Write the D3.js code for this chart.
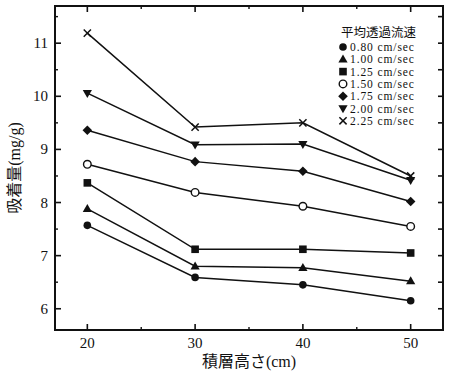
<!DOCTYPE html>
<html>
<head>
<meta charset="utf-8">
<script src="https://cdn.jsdelivr.net/npm/d3@7"></script>
<style>
  body { margin: 0; background: #fff; }
  svg text { fill: #111; font-family: "Liberation Serif", "Noto Sans CJK JP", serif; }
</style>
</head>
<body>
<div id="chart"></div>
<script>
// data
const heights = [20, 30, 40, 50];
const flowLabels = ["0.80 cm/sec", "1.00 cm/sec", "1.25 cm/sec", "1.50 cm/sec", "1.75 cm/sec", "2.00 cm/sec", "2.25 cm/sec"];
const markers = ["circle", "triangle", "square", "open", "diamond", "tridown", "cross"];
const v080 = [7.57, 6.59, 6.45, 6.15];
const v100 = [7.88, 6.80, 6.77, 6.52];
const v125 = [8.37, 7.12, 7.12, 7.05];
const v150 = [8.72, 8.19, 7.93, 7.55];
const v175 = [9.36, 8.77, 8.59, 8.02];
const v200 = [10.06, 9.09, 9.10, 8.42];
const v225 = [11.19, 9.42, 9.50, 8.50];
const xTicks = [20, 30, 40, 50];
const yTicks = [6, 7, 8, 9, 10, 11];
const legendTitle = "平均透過流速";
const xTitle = "積層高さ(cm)";
const yTitle = "吸着量(mg/g)";

const series = [v080, v100, v125, v150, v175, v200, v225];

const width = 450, height = 379;
const margin = { top: 6, right: 7, bottom: 49, left: 55 };
const ink = "#111";

const svg = d3.select("#chart").append("svg")
  .attr("width", width)
  .attr("height", height);

const x = d3.scaleLinear().domain([17, 53]).range([margin.left, width - margin.right]);
const y = d3.scaleLinear().domain([5.6, 11.7]).range([height - margin.bottom, margin.top]);

const halfTicksY = d3.range(6, 11.6, 0.5);
const minorX = [25, 35, 45];
const minorY = halfTicksY.filter(d => d % 1 !== 0);

// axes with inward ticks
const axisG = svg.append("g").attr("stroke", ink);

function tickLines(sel, data, x1, y1, x2, y2, w) {
  sel.selectAll(null).data(data).enter().append("line")
    .attr("x1", x1).attr("y1", y1).attr("x2", x2).attr("y2", y2)
    .attr("stroke-width", w);
}
const L = x.range()[0], R = x.range()[1], B = y.range()[0], T = y.range()[1];
tickLines(axisG, xTicks, d => x(d), B, d => x(d), B - 6, 1.6);
tickLines(axisG, minorX, d => x(d), B, d => x(d), B - 3, 1.4);
tickLines(axisG, xTicks, d => x(d), T, d => x(d), T + 6, 1.6);
tickLines(axisG, minorX, d => x(d), T, d => x(d), T + 3, 1.4);
tickLines(axisG, yTicks, L, d => y(d), L + 6, d => y(d), 1.6);
tickLines(axisG, minorY, L, d => y(d), L + 3, d => y(d), 1.4);
tickLines(axisG, halfTicksY, R, d => y(d), R - 5, d => y(d), 1.6);

axisG.append("rect")
  .attr("x", L).attr("y", T)
  .attr("width", R - L).attr("height", B - T)
  .attr("fill", "none").attr("stroke-width", 2);

// tick labels
svg.append("g").selectAll("text").data(xTicks).enter().append("text")
  .attr("x", d => x(d)).attr("y", B + 18)
  .attr("text-anchor", "middle").attr("font-size", 15)
  .text(d => d);
svg.append("g").selectAll("text").data(yTicks).enter().append("text")
  .attr("x", L - 7).attr("y", d => y(d) + 5)
  .attr("text-anchor", "end").attr("font-size", 15)
  .text(d => d);

// axis titles
svg.append("text")
  .attr("x", (L + R) / 2).attr("y", 367)
  .attr("text-anchor", "middle").attr("font-size", 16)
  .text(xTitle);
svg.append("text")
  .attr("transform", `translate(20, ${(T + B) / 2}) rotate(-90)`)
  .attr("text-anchor", "middle").attr("font-size", 16)
  .text(yTitle);

// marker drawing
function drawMarker(g, type, cx, cy) {
  const s = 3.8;
  if (type === "circle") {
    g.append("circle").attr("cx", cx).attr("cy", cy).attr("r", s).attr("fill", ink);
  } else if (type === "open") {
    g.append("circle").attr("cx", cx).attr("cy", cy).attr("r", s).attr("fill", "#fff")
      .attr("stroke", ink).attr("stroke-width", 1.4);
  } else if (type === "square") {
    g.append("rect").attr("x", cx - s).attr("y", cy - s).attr("width", 2 * s).attr("height", 2 * s).attr("fill", ink);
  } else if (type === "triangle") {
    g.append("path").attr("d", `M${cx},${cy - 4.8}L${cx + 4.6},${cy + 3.2}L${cx - 4.6},${cy + 3.2}Z`).attr("fill", ink);
  } else if (type === "tridown") {
    g.append("path").attr("d", `M${cx},${cy + 4.8}L${cx + 4.6},${cy - 3.2}L${cx - 4.6},${cy - 3.2}Z`).attr("fill", ink);
  } else if (type === "diamond") {
    g.append("path").attr("d", `M${cx},${cy - 4.8}L${cx + 4.8},${cy}L${cx},${cy + 4.8}L${cx - 4.8},${cy}Z`).attr("fill", ink);
  } else if (type === "cross") {
    g.append("path").attr("d", `M${cx - 3.6},${cy - 3.6}L${cx + 3.6},${cy + 3.6}M${cx - 3.6},${cy + 3.6}L${cx + 3.6},${cy - 3.6}`)
      .attr("stroke", ink).attr("stroke-width", 1.5);
  }
}

// lines and markers
const line = d3.line().x((d, i) => x(heights[i])).y(d => y(d));
const plot = svg.append("g");
series.forEach((vals, k) => {
  plot.append("path").datum(vals)
    .attr("d", line)
    .attr("fill", "none").attr("stroke", ink).attr("stroke-width", 1.5);
});
series.forEach((vals, k) => {
  const g = plot.append("g");
  vals.forEach((v, i) => drawMarker(g, markers[k], x(heights[i]), y(v)));
});

// legend
const lg = svg.append("g").attr("transform", "translate(343, 0)");
lg.append("text").attr("x", -2).attr("y", 37).attr("font-size", 12.5).text(legendTitle);
flowLabels.forEach((lab, i) => {
  const cy = 47 + i * 12.3;
  drawMarker(lg, markers[i], 0, cy);
  lg.append("text").attr("x", 7).attr("y", cy + 4).attr("font-size", 11.5)
    .attr("letter-spacing", 0.9).text(lab);
});
</script>
</body>
</html>
